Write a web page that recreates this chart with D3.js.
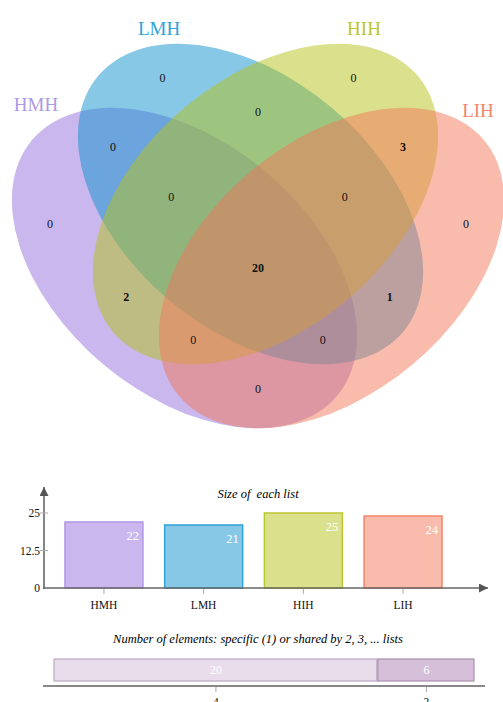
<!DOCTYPE html>
<html>
<head>
<meta charset="utf-8">
<script src="https://cdn.jsdelivr.net/npm/d3@7"></script>
<style>
  body { margin: 0; background: #fff; }
  text { font-family: "Liberation Serif", "DejaVu Serif", serif; }
</style>
</head>
<body>
<svg id="chart" width="503" height="702"></svg>
<script>
// ---- data ----
const lists = ["HMH", "LMH", "HIH", "LIH"];
const listSizes = [22, 21, 25, 24];
const listColors = ["#9370DB", "#0F91CF", "#B5C11A", "#F2775A"];
const listStrokes = ["#AE98E6", "#2EA3DA", "#BCC62E", "#F2866C"];

// Venn regions: membership flags in list order and the element count of each
const regionKeys = ["1000", "0100", "0010", "0001",
                    "1100", "1010", "1001", "0110", "0101", "0011",
                    "1110", "1101", "1011", "0111", "1111"];
const regionCounts = [0, 0, 0, 0,
                      0, 2, 0, 0, 1, 3,
                      0, 0, 0, 0, 20];

// Elements shared by N lists
const sharedBy = [4, 2];
const sharedCounts = [20, 6];
const sizeTicks = [0, 12.5, 25];

// ---- layout ----
const svg = d3.select("#chart");
const W = 503;

// Four tilted ellipses of the classic 4-set Venn layout
const RX = 199, RY = 126;
const ellipses = [
  { cx: 184.5, cy: 268, rot: 40 },
  { cx: 250.5, cy: 204, rot: 40 },
  { cx: 265.5, cy: 204, rot: -40 },
  { cx: 331.5, cy: 268, rot: -40 }
];
const nameAnchors = [
  { x: 36, y: 104 }, { x: 159, y: 28 }, { x: 364, y: 28 }, { x: 478, y: 110 }
];

const venn = svg.append("g");
venn.selectAll("ellipse")
  .data(lists)
  .join("ellipse")
  .attr("transform", (d, i) => `translate(${ellipses[i].cx},${ellipses[i].cy}) rotate(${ellipses[i].rot})`)
  .attr("rx", RX)
  .attr("ry", RY)
  .attr("fill", (d, i) => listColors[i])
  .attr("fill-opacity", 0.5);

venn.selectAll("text.name")
  .data(lists)
  .join("text")
  .attr("class", "name")
  .attr("x", (d, i) => nameAnchors[i].x)
  .attr("y", (d, i) => nameAnchors[i].y)
  .attr("text-anchor", "middle")
  .attr("dominant-baseline", "central")
  .attr("font-size", 19)
  .attr("fill", (d, i) => listStrokes[i])
  .text(d => d);

// Each region's count goes at the region's centroid, or at its most open
// point when the centroid sits much closer to an edge than that point does
function ellipseField(e, x, y) {
  const t = -e.rot * Math.PI / 180;
  const dx = x - e.cx, dy = y - e.cy;
  const u = dx * Math.cos(t) - dy * Math.sin(t);
  const v = dx * Math.sin(t) + dy * Math.cos(t);
  const f = (u * u) / (RX * RX) + (v * v) / (RY * RY);
  const g = Math.hypot(2 * u / (RX * RX), 2 * v / (RY * RY)) || 1e-9;
  return { inside: f <= 1, dist: Math.abs(f - 1) / g };
}
function probe(x, y) {
  let key = "", clear = Infinity;
  ellipses.forEach(e => {
    const r = ellipseField(e, x, y);
    key += r.inside ? "1" : "0";
    clear = Math.min(clear, r.dist);
  });
  return { key, clear };
}
const best = {}, sums = {};
for (let x = 0; x <= W; x += 2) {
  for (let y = 20; y <= 450; y += 2) {
    const p = probe(x, y);
    if (!best[p.key] || p.clear > best[p.key].clear) best[p.key] = { x, y, clear: p.clear };
    const s = sums[p.key] || (sums[p.key] = { x: 0, y: 0, n: 0 });
    s.x += x; s.y += y; s.n += 1;
  }
}
const labelPos = {};
regionKeys.forEach(k => {
  const c = { x: sums[k].x / sums[k].n, y: sums[k].y / sums[k].n };
  const p = probe(c.x, c.y);
  labelPos[k] = (p.key === k && p.clear > 0.6 * best[k].clear) ? c : best[k];
});

venn.selectAll("text.count")
  .data(regionKeys)
  .join("text")
  .attr("class", "count")
  .attr("x", d => labelPos[d].x)
  .attr("y", d => labelPos[d].y)
  .attr("text-anchor", "middle")
  .attr("dominant-baseline", "central")
  .attr("font-size", 12)
  .attr("font-weight", (d, i) => regionCounts[i] > 0 ? "bold" : "normal")
  .attr("fill", "#111")
  .text((d, i) => regionCounts[i]);

// ---- arrow marker ----
svg.append("defs").append("marker")
  .attr("id", "arrow")
  .attr("viewBox", "0 0 10 10")
  .attr("refX", 10).attr("refY", 5)
  .attr("markerWidth", 9).attr("markerHeight", 9)
  .attr("markerUnits", "userSpaceOnUse")
  .attr("orient", "auto")
  .append("path")
  .attr("d", "M0,0 L10,5 L0,10 Z")
  .attr("fill", "#555");

// ---- bar chart: size of each list ----
const x = d3.scaleBand().domain(lists).range([54, 453]).paddingInner(0.218).paddingOuter(0.11);
const y = d3.scaleLinear().domain([0, 25]).range([588, 513]);
const axisX0 = 44;

const bars = svg.append("g");
bars.append("text")
  .attr("x", 258).attr("y", 494)
  .attr("text-anchor", "middle")
  .attr("dominant-baseline", "central")
  .attr("font-size", 12.5)
  .attr("font-style", "italic")
  .style("white-space", "pre")
  .text("Size of  each list");

bars.selectAll("rect")
  .data(lists)
  .join("rect")
  .attr("x", d => x(d))
  .attr("y", (d, i) => y(listSizes[i]))
  .attr("width", x.bandwidth())
  .attr("height", (d, i) => y(0) - y(listSizes[i]))
  .attr("fill", (d, i) => listColors[i])
  .attr("fill-opacity", 0.5)
  .attr("stroke", (d, i) => listStrokes[i])
  .attr("stroke-width", 1.5);

bars.selectAll("text.val")
  .data(lists)
  .join("text")
  .attr("class", "val")
  .attr("x", d => x(d) + x.bandwidth() - 4)
  .attr("y", (d, i) => y(listSizes[i]) + 14)
  .attr("text-anchor", "end")
  .attr("dominant-baseline", "central")
  .attr("font-size", 12.5)
  .attr("fill", "#fff")
  .text((d, i) => listSizes[i]);

// axes
bars.append("line")
  .attr("x1", axisX0).attr("y1", y(0) + 1)
  .attr("x2", axisX0).attr("y2", 487)
  .attr("stroke", "#666").attr("stroke-width", 1.6)
  .attr("marker-end", "url(#arrow)");
bars.append("line")
  .attr("x1", axisX0 - 1).attr("y1", y(0))
  .attr("x2", 488).attr("y2", y(0))
  .attr("stroke", "#666").attr("stroke-width", 1.6)
  .attr("marker-end", "url(#arrow)");

bars.selectAll("text.ytick")
  .data(sizeTicks)
  .join("text")
  .attr("class", "ytick")
  .attr("x", 40)
  .attr("y", d => y(d))
  .attr("text-anchor", "end")
  .attr("dominant-baseline", "central")
  .attr("font-size", 11.5)
  .attr("fill", "#111")
  .text(d => d);
bars.selectAll("line.ytick")
  .data(sizeTicks.filter(d => d > 0))
  .join("line")
  .attr("class", "ytick")
  .attr("x1", 40).attr("x2", 48)
  .attr("y1", d => y(d)).attr("y2", d => y(d))
  .attr("stroke", "#aaa").attr("stroke-width", 1);

bars.selectAll("line.xtick")
  .data(lists)
  .join("line")
  .attr("class", "xtick")
  .attr("x1", d => x(d) + x.bandwidth() / 2)
  .attr("x2", d => x(d) + x.bandwidth() / 2)
  .attr("y1", y(0) + 1).attr("y2", y(0) + 6)
  .attr("stroke", "#aaa").attr("stroke-width", 1);
bars.selectAll("text.xlab")
  .data(lists)
  .join("text")
  .attr("class", "xlab")
  .attr("x", d => x(d) + x.bandwidth() / 2)
  .attr("y", 605)
  .attr("text-anchor", "middle")
  .attr("dominant-baseline", "central")
  .attr("font-size", 11.5)
  .attr("fill", "#111")
  .text(d => d);

// ---- stacked bar: elements shared by N lists ----
const total = d3.sum(sharedCounts);
const xs = d3.scaleLinear().domain([0, total]).range([54, 475]);
const starts = d3.cumsum([0, ...sharedCounts]).slice(0, sharedCounts.length);
const sharedFills = ["#E9DDEC", "#D5BFD9"];
const sharedStrokes = ["#BBA9C2", "#A890AE"];

const stack = svg.append("g");
stack.append("text")
  .attr("x", 258).attr("y", 639)
  .attr("text-anchor", "middle")
  .attr("dominant-baseline", "central")
  .attr("font-size", 12.5)
  .attr("font-style", "italic")
  .text("Number of elements: specific (1) or shared by 2, 3, ... lists");

stack.selectAll("rect")
  .data(sharedBy)
  .join("rect")
  .attr("x", (d, i) => xs(starts[i]))
  .attr("y", 659)
  .attr("width", (d, i) => xs(sharedCounts[i]) - xs(0) - 1)
  .attr("height", 22)
  .attr("fill", (d, i) => sharedFills[i])
  .attr("stroke", (d, i) => sharedStrokes[i])
  .attr("stroke-width", 1.2);

stack.selectAll("text.val")
  .data(sharedBy)
  .join("text")
  .attr("class", "val")
  .attr("x", (d, i) => xs(starts[i] + sharedCounts[i] / 2))
  .attr("y", 670)
  .attr("text-anchor", "middle")
  .attr("dominant-baseline", "central")
  .attr("font-size", 12)
  .attr("fill", "#fff")
  .text((d, i) => sharedCounts[i]);

stack.append("line")
  .attr("x1", 43).attr("x2", 485)
  .attr("y1", 686).attr("y2", 686)
  .attr("stroke", "#888").attr("stroke-width", 1.8);
stack.selectAll("line.tick")
  .data(sharedBy)
  .join("line")
  .attr("class", "tick")
  .attr("x1", (d, i) => xs(starts[i] + sharedCounts[i] / 2))
  .attr("x2", (d, i) => xs(starts[i] + sharedCounts[i] / 2))
  .attr("y1", 687).attr("y2", 692)
  .attr("stroke", "#aaa").attr("stroke-width", 1);
stack.selectAll("text.lab")
  .data(sharedBy)
  .join("text")
  .attr("class", "lab")
  .attr("x", (d, i) => xs(starts[i] + sharedCounts[i] / 2))
  .attr("y", 706)
  .attr("text-anchor", "middle")
  .attr("font-size", 11.5)
  .attr("fill", "#111")
  .text(d => d);
</script>
</body>
</html>
